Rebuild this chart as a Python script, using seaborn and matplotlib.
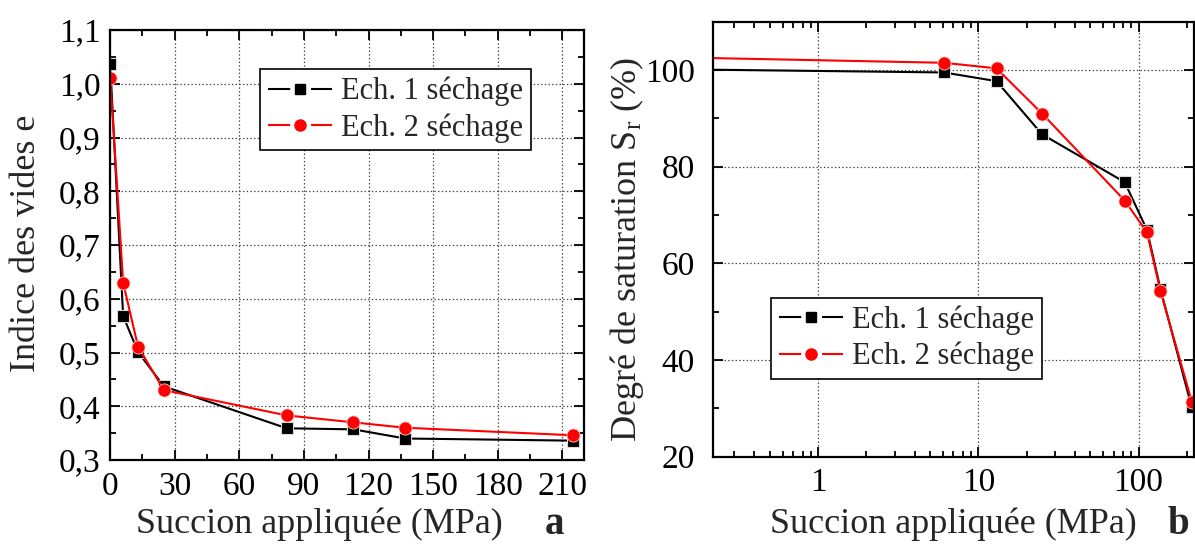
import matplotlib
matplotlib.use("Agg")
import matplotlib.pyplot as plt
from matplotlib.lines import Line2D
from matplotlib.ticker import MultipleLocator, FuncFormatter, LogLocator, NullFormatter
import seaborn as sns
import numpy as np
import pandas as pd

# ---- data ----
succion = [0.1, 6.1, 13, 25, 82, 113, 137, 215]
e_ech1 = [1.036, 0.568, 0.501, 0.437, 0.359, 0.357, 0.340, 0.336]
e_ech2 = [1.011, 0.630, 0.511, 0.430, 0.383, 0.370, 0.360, 0.346]
sr_ech1 = [100.2, 99.5, 97.7, 86.7, 76.8, 66.9, 54.7, 30.2]
sr_ech2 = [102.7, 101.5, 100.35, 91.0, 73.0, 66.4, 54.3, 31.4]
labels = ["Ech. 1 séchage", "Ech. 2 séchage"]
xticks_a = [0, 30, 60, 90, 120, 150, 180, 210]
yticks_a = [0.3, 0.4, 0.5, 0.6, 0.7, 0.8, 0.9, 1.0, 1.1]
yticks_b = [20, 40, 60, 80, 100]

sns.set_style("ticks")
plt.rcParams["font.family"] = ["Liberation Serif", "DejaVu Serif"]
plt.rcParams["mathtext.fontset"] = "custom"
plt.rcParams["mathtext.rm"] = "Liberation Serif"
plt.rcParams["mathtext.it"] = "Liberation Serif:italic"
plt.rcParams["lines.scale_dashes"] = False

fig = plt.figure(figsize=(11.95, 5.44), dpi=100)
W, H = 1195, 544
def axrect(x0, y0, x1, y1):
    return [x0 / W, (H - y1) / H, (x1 - x0) / W, (y1 - y0) / H]

axa = fig.add_axes(axrect(110, 30, 584, 460))
axb = fig.add_axes(axrect(712.7, 21.7, 1194, 456.7))

df = pd.DataFrame({"x": succion, "e1": e_ech1, "e2": e_ech2, "s1": sr_ech1, "s2": sr_ech2})

black_kw = dict(color="black", marker="s", markersize=8.5, markeredgecolor="0.85",
                markeredgewidth=0.8, linewidth=1.5, estimator=None, sort=False)
red_kw = dict(color="#ff0000", marker="o", markersize=9.5, markeredgecolor="#ffd0d0",
              markeredgewidth=0.6, linewidth=1.5, estimator=None, sort=False)

for ax, c1, c2 in [(axa, "e1", "e2"), (axb, "s1", "s2")]:
    sns.lineplot(data=df, x="x", y=c1, ax=ax, **black_kw, clip_on=True)
    sns.lineplot(data=df, x="x", y=c2, ax=ax, **red_kw, clip_on=True)

comma = FuncFormatter(lambda v, p: f"{v:.1f}".replace(".", ","))

# panel a
axa.set_xlim(0, 220)
axa.set_ylim(0.3, 1.1)
axa.set_xticks(xticks_a)
axa.xaxis.set_minor_locator(MultipleLocator(15))
axa.set_yticks(yticks_a)
axa.yaxis.set_major_formatter(comma)
axa.yaxis.set_minor_locator(MultipleLocator(0.05))
axa.tick_params(axis="y", pad=7)

# panel b
axb.set_xscale("log")
axb.set_xlim(0.22, 222)
axb.set_ylim(20, 110)
axb.xaxis.set_major_locator(LogLocator(base=10, numticks=10))
axb.xaxis.set_minor_locator(LogLocator(base=10, subs=np.arange(2, 10), numticks=20))
axb.xaxis.set_minor_formatter(NullFormatter())
axb.xaxis.set_major_formatter(FuncFormatter(lambda v, p: f"{v:g}"))
axb.set_yticks(yticks_b)
axb.yaxis.set_minor_locator(MultipleLocator(10))
axb.tick_params(axis="y", pad=13)

for ax in (axa, axb):
    ax.set_xlabel("")
    ax.set_ylabel("")
    ax.grid(True, which="major", linestyle=":", color="0.25", linewidth=0.9)
    ax.tick_params(which="both", direction="in", top=True, right=True,
                   labelsize=24, width=1.3, colors="black")
    ax.tick_params(which="major", length=7)
    ax.tick_params(which="minor", length=4)
    ax.tick_params(axis="x", pad=8)
    for s in ax.spines.values():
        s.set_linewidth(1.6)
        s.set_color("black")
        s.set_visible(True)
    ax.set_axisbelow(True)

# legends
def handles():
    h1 = Line2D([], [], color="black", linewidth=1.5, linestyle=(0, (16, 15)),
                marker="s", markersize=7, markerfacecolor="black", markeredgecolor="black")
    h2 = Line2D([], [], color="#ff0000", linewidth=1.5, linestyle=(0, (16, 15)),
                marker="o", markersize=8, markerfacecolor="#ff0000", markeredgecolor="#ff0000")
    return [h1, h2]

leg_kw = dict(fontsize=22, frameon=True, fancybox=False, edgecolor="black", framealpha=1,
              handlelength=2.1, handletextpad=0.3, labelspacing=0.22, borderpad=0.25,
              borderaxespad=0, numpoints=1, loc="upper left")
la = axa.legend(handles(), labels, bbox_to_anchor=((260 - 110) / 474, (460 - 69.3) / 430), **leg_kw)
lb = axb.legend(handles(), labels, bbox_to_anchor=((771 - 712.7) / 481.3, (456.7 - 298) / 435), **leg_kw)
for lg in (la, lb):
    lg.get_frame().set_linewidth(1.2)

# labels
fig.text(319 / W, 1 - 524 / H, "Succion appliquée (MPa)", ha="center", va="center", fontsize=26)
fig.text(953 / W, 1 - 524 / H, "Succion appliquée (MPa)", ha="center", va="center", fontsize=26)
fig.text(555 / W, 1 - 525 / H, "a", ha="center", va="center", fontsize=28, fontweight="bold")
fig.text(1178 / W, 1 - 525 / H, "b", ha="center", va="center", fontsize=28, fontweight="bold")
fig.text(27 / W, 1 - 243 / H, "Indice des vides e", rotation=90, ha="center", va="center", fontsize=26)
fig.text(627 / W, 1 - 249 / H, "Degré de saturation S$_\\mathrm{r}$ (%)", rotation=90,
         ha="center", va="center", fontsize=26)

fig.savefig("out.png", dpi=100, facecolor="white")
